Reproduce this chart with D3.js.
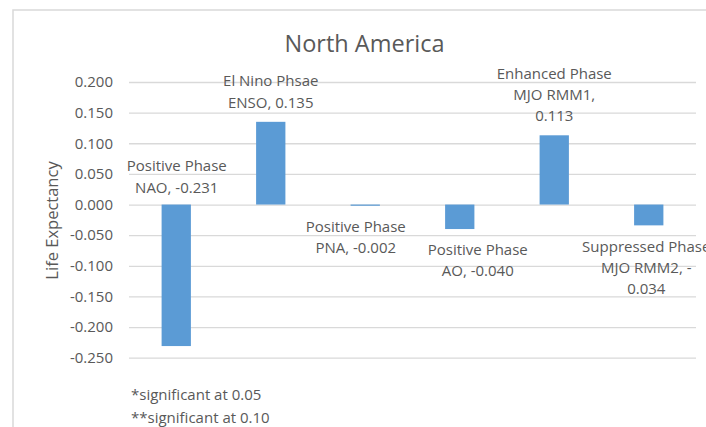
<!DOCTYPE html>
<html>
<head>
<meta charset="utf-8">
<script src="https://cdn.jsdelivr.net/npm/d3@7/dist/d3.min.js"></script>
<style>
  html, body { margin: 0; padding: 0; background: #ffffff; }
  svg { display: block; font-family: "Open Sans", "Noto Sans", sans-serif; }
</style>
</head>
<body>
<svg id="chart" width="706" height="427"></svg>
<script>
// Climate-index phases and their effect on life expectancy
const categories = ["NAO", "ENSO", "PNA", "AO", "MJO RMM1", "MJO RMM2"];
const values = [-0.231, 0.135, -0.002, -0.040, 0.113, -0.034];
const labelLines = [
  ["Positive Phase", "NAO, -0.231"],
  ["El Nino Phsae", "ENSO, 0.135"],
  ["Positive Phase", "PNA, -0.002"],
  ["Positive Phase", "AO, -0.040"],
  ["Enhanced Phase", "MJO RMM1,", "0.113"],
  ["Suppressed Phase", "MJO RMM2, -", "0.034"]
];
const yTicks = [0.2, 0.15, 0.1, 0.05, 0, -0.05, -0.1, -0.15, -0.2, -0.25];
const footnotes = ["*significant at 0.05", "**significant at 0.10"];
const titleText = "North America";
const yAxisTitle = "Life Expectancy";

// Label placement: dx from bar centre; dy of the first line from the bar end
// (or from the zero line when fromZero is set)
const labelPlacement = [
  { dx: 0.5, dy: -38.3, fromZero: true },
  { dx: 0, dy: -40.7 },
  { dx: -9.5, dy: 21.1 },
  { dx: 18, dy: 20.5 },
  { dx: 0, dy: -61.8 },
  { dx: -2.5, dy: 20.9 }
];

const textColor = "#595959";
const gridColor = "#D9D9D9";
const barColor = "#5B9BD5";

const svg = d3.select("#chart");

// chart-area frame
svg.append("rect")
  .attr("x", 13).attr("y", 10)
  .attr("width", 720).attr("height", 440)
  .attr("fill", "none")
  .attr("stroke", gridColor)
  .attr("stroke-width", 1.5);

const plot = { left: 129, right: 696 };

const x = d3.scaleBand()
  .domain(categories)
  .range([plot.left, plot.right])
  .paddingInner(0.69)
  .paddingOuter(0.345);

const y = d3.scaleLinear()
  .domain([-0.25, 0.2])
  .range([357.7, 82]);

// gridlines and tick labels
const yAxis = d3.axisLeft(y)
  .tickValues(yTicks)
  .tickFormat(d3.format(".3f"))
  .tickSize(-(plot.right - plot.left))
  .tickPadding(16);

const gAxis = svg.append("g")
  .attr("transform", `translate(${plot.left},0)`)
  .call(yAxis);
gAxis.select(".domain").remove();
gAxis.selectAll(".tick line")
  .attr("stroke", gridColor)
  .attr("stroke-width", 1.3);
gAxis.selectAll(".tick text")
  .attr("fill", textColor)
  .style("font-size", "15px")
  .style("font-family", "'Open Sans', sans-serif")
  .text(d => d3.format(".3f")(d).replace("−", "-"));

// bars
svg.append("g").selectAll("rect")
  .data(values)
  .join("rect")
  .attr("x", (d, i) => x(categories[i]))
  .attr("width", x.bandwidth())
  .attr("y", d => y(Math.max(0, d)))
  .attr("height", d => Math.abs(y(d) - y(0)))
  .attr("fill", barColor);

// data labels
const lineGap = 21.3;
values.forEach((v, i) => {
  const p = labelPlacement[i];
  const cx = x(categories[i]) + x.bandwidth() / 2 + p.dx;
  const y0 = (p.fromZero ? y(0) : y(v)) + p.dy;
  const t = svg.append("text")
    .attr("text-anchor", "middle")
    .attr("fill", textColor)
    .style("font-size", "15px");
  labelLines[i].forEach((line, k) => {
    t.append("tspan")
      .attr("x", cx)
      .attr("y", y0 + k * lineGap)
      .attr("dy", "0.35em")
      .text(line);
  });
});

// title
svg.append("text")
  .attr("x", 364.5).attr("y", 51.5)
  .attr("text-anchor", "middle")
  .attr("fill", textColor)
  .style("font-size", "23.5px")
  .text(titleText);

// y-axis title
svg.append("text")
  .attr("transform", "translate(52,220.5) rotate(-90)")
  .attr("text-anchor", "middle")
  .attr("dy", "0.35em")
  .attr("fill", textColor)
  .style("font-size", "16.5px")
  .text(yAxisTitle);

// footnotes
svg.append("g").selectAll("text")
  .data(footnotes)
  .join("text")
  .attr("x", 131)
  .attr("y", (d, i) => 395 + i * 23)
  .attr("dy", "0.35em")
  .attr("fill", textColor)
  .style("font-size", "15px")
  .text(d => d);
</script>
</body>
</html>
